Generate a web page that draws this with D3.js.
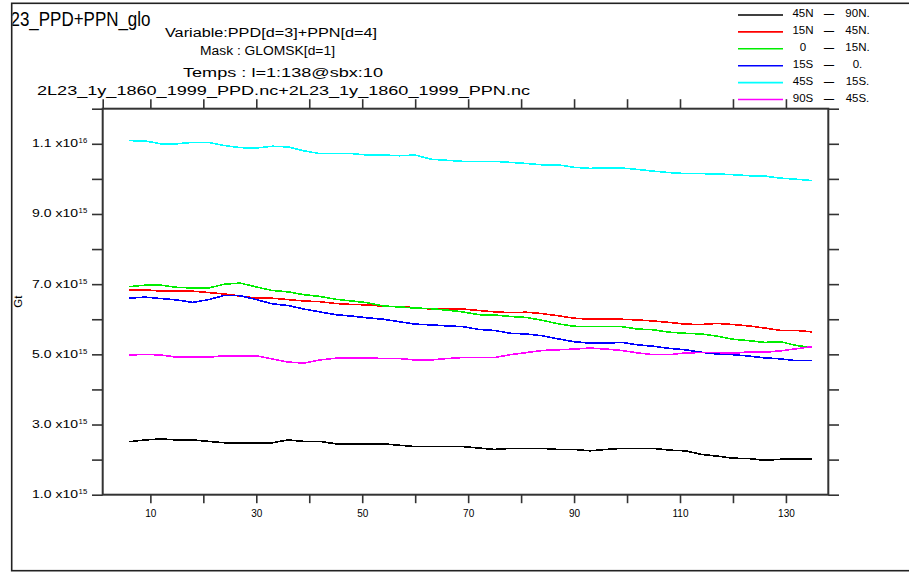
<!DOCTYPE html>
<html><head><meta charset="utf-8">
<script src="https://cdn.jsdelivr.net/npm/d3@7"></script>
<style>
html,body{margin:0;padding:0;background:#fff;}
svg{display:block;}
text{font-family:"Liberation Sans","DejaVu Sans",Arial,sans-serif;fill:#000;}
</style></head><body>
<svg id="chart" width="909" height="572"></svg>
<script>
// ---------------- data (values in units of 1e15 Gt) ----------------
const xValues = [6,9,12,15,18,21,24,27,30,33,36,39,42,45,48,51,54,57,60,63,66,69,
                 72,75,78,81,84,87,90,93,96,99,102,105,108,111,114,117,120,123,126,129,132,135];
const s45N90N = [2.51,2.56,2.59,2.56,2.56,2.52,2.48,2.48,2.48,2.48,2.56,2.52,2.52,2.45,2.45,2.45,2.45,2.41,2.37,2.37,2.37,2.37,
                 2.33,2.29,2.32,2.32,2.32,2.29,2.29,2.25,2.29,2.32,2.32,2.32,2.27,2.25,2.15,2.10,2.04,2.03,1.98,2.01,2.01,2.01];
const s15N45N = [6.84,6.84,6.80,6.80,6.80,6.76,6.72,6.66,6.60,6.60,6.56,6.52,6.50,6.45,6.42,6.41,6.37,6.36,6.33,6.29,6.29,6.29,
                 6.25,6.21,6.19,6.20,6.16,6.10,6.03,6.00,6.00,6.00,5.98,5.95,5.91,5.86,5.85,5.88,5.85,5.81,5.75,5.68,5.68,5.64];
const s0N15N   = [6.93,6.97,6.97,6.91,6.89,6.89,7.00,7.03,6.92,6.82,6.78,6.70,6.65,6.57,6.52,6.47,6.38,6.35,6.32,6.30,6.26,6.21,
                 6.13,6.12,6.08,6.05,5.97,5.87,5.80,5.79,5.79,5.79,5.72,5.70,5.63,5.60,5.58,5.52,5.43,5.39,5.34,5.36,5.25,5.20];
const s15S0    = [6.60,6.63,6.59,6.55,6.48,6.56,6.68,6.67,6.56,6.44,6.39,6.29,6.21,6.13,6.09,6.04,6.00,5.93,5.86,5.84,5.81,5.79,
                 5.71,5.68,5.60,5.58,5.53,5.44,5.36,5.32,5.32,5.34,5.27,5.23,5.17,5.13,5.06,5.01,4.99,4.95,4.90,4.87,4.82,4.82];
const s45S15S  = [11.09,11.08,11.00,11.00,11.04,11.04,10.95,10.89,10.88,10.93,10.91,10.80,10.72,10.72,10.72,10.68,10.68,10.66,10.68,10.56,10.53,10.50,
                 10.50,10.50,10.47,10.44,10.40,10.40,10.33,10.30,10.31,10.31,10.27,10.22,10.18,10.15,10.15,10.14,10.12,10.09,10.08,10.02,9.99,9.95];
const s90S45S  = [4.98,5.00,4.98,4.92,4.92,4.92,4.96,4.96,4.96,4.87,4.78,4.75,4.84,4.89,4.90,4.90,4.88,4.88,4.84,4.84,4.88,4.91,
                 4.91,4.91,4.99,5.05,5.11,5.13,5.15,5.18,5.15,5.11,5.04,4.99,4.99,5.04,5.05,5.05,5.03,5.07,5.06,5.10,5.16,5.22];

const seriesList   = [s45N90N, s15N45N, s0N15N, s15S0, s45S15S, s90S45S];
const legendFrom   = ["45N","15N","0","15S","45S","90S"];
const legendTo     = ["90N.","45N.","15N.","0.","15S.","45S."];
const seriesColors = ["#000000","#ff0000","#00ee00","#0000ff","#00ffff","#ff00ff"];

const xTickValues  = [10,20,30,40,50,60,70,80,90,100,110,120,130];
const xLabelValues = [10,30,50,70,90,110,130];
const yTickValues  = [1,2,3,4,5,6,7,8,9,10,11,12];
const yLabelValues = [1,3,5,7,9,11];
const yLabelMain   = ["1.0 x10","3.0 x10","5.0 x10","7.0 x10","9.0 x10","1.1 x10"];
const yLabelExp    = ["15","15","15","15","15","16"];

const titleText = "23_PPD+PPN_glo";
const subTitles = ["Variable:PPD[d=3]+PPN[d=4]","Mask : GLOMSK[d=1]","Temps : l=1:138@sbx:10",
                   "2L23_1y_1860_1999_PPD.nc+2L23_1y_1860_1999_PPN.nc"];
const yAxisTitle = "Gt";

// ---------------- layout ----------------
const svg = d3.select("#chart");
const L = 102.7, R = 828.3, T = 108.7, B = 494.7;
const x = d3.scaleLinear().domain([1,138]).range([L,R]);
const y = d3.scaleLinear().domain([1,12]).range([B,T]);
const axisColor = "#333";

svg.append("rect").attr("width",909).attr("height",572).attr("fill","#fff");

// outer box
svg.append("rect").attr("x",11.7).attr("y",3.3).attr("width",905).attr("height",567.4)
  .attr("fill","none").attr("stroke","#222").attr("stroke-width",1.6);

svg.append("clipPath").attr("id","boxclip").append("rect")
  .attr("x",12.5).attr("y",4).attr("width",900).attr("height",560);

// title + subtitles
svg.append("text").attr("clip-path","url(#boxclip)")
  .attr("x",10.5).attr("y",26).attr("font-size",19.5)
  .attr("textLength",140).attr("lengthAdjust","spacingAndGlyphs").text(titleText);
const subPos = [[165,36.6,212],[200,55.3,135],[183,76.6,200],[37,94.6,493]];
subTitles.forEach((t,i)=>{
  svg.append("text").attr("x",subPos[i][0]).attr("y",subPos[i][1]).attr("font-size",12)
    .attr("textLength",subPos[i][2]).attr("lengthAdjust","spacingAndGlyphs").text(t);
});

// axes
function styleAxis(g){
  g.select(".domain").remove();
  g.selectAll(".tick line").attr("stroke",axisColor).attr("stroke-width",1.6);
  g.selectAll(".tick text").attr("fill","#000").attr("font-size",10)
    .attr("font-family","'Liberation Sans','DejaVu Sans',sans-serif");
}
const gB = svg.append("g").attr("transform",`translate(0,${B})`)
  .call(d3.axisBottom(x).tickValues(xTickValues).tickSize(8.5).tickPadding(7)
        .tickFormat(d => xLabelValues.includes(d) ? d : ""));
styleAxis(gB);
const gT = svg.append("g").attr("transform",`translate(0,${T})`)
  .call(d3.axisTop(x).tickValues([1].concat(xTickValues)).tickSize(9.5).tickFormat(""));
styleAxis(gT);
const gL = svg.append("g").attr("transform",`translate(${L},0)`)
  .call(d3.axisLeft(y).tickValues(yTickValues).tickSize(10.7).tickFormat(""));
styleAxis(gL);
const gR = svg.append("g").attr("transform",`translate(${R},0)`)
  .call(d3.axisRight(y).tickValues(yTickValues).tickSize(10.7).tickFormat(""));
styleAxis(gR);

// y labels
yLabelValues.forEach((v,i)=>{
  const py = y(v);
  svg.append("text").attr("x",32).attr("y",py+3.4).attr("font-size",10)
    .attr("textLength",46).attr("lengthAdjust","spacingAndGlyphs").text(yLabelMain[i]);
  svg.append("text").attr("x",78.6).attr("y",py-0.6).attr("font-size",7)
    .attr("textLength",8.6).attr("lengthAdjust","spacingAndGlyphs").text(yLabelExp[i]);
});
svg.append("text").attr("transform",`translate(22,${(T+B)/2}) rotate(-90)`)
  .attr("text-anchor","middle").attr("font-size",11.5).text(yAxisTitle);

// frame
svg.append("rect").attr("x",L).attr("y",T).attr("width",R-L).attr("height",B-T)
  .attr("fill","none").attr("stroke",axisColor).attr("stroke-width",2);

// data lines
const line = d3.line().x((d,i)=>x(xValues[i])).y(d=>y(d));
seriesList.forEach((s,i)=>{
  svg.append("path").datum(s).attr("d",line).attr("fill","none")
    .attr("stroke",seriesColors[i]).attr("stroke-width",1.6)
    .attr("shape-rendering","crispEdges");
});

// legend
seriesList.forEach((s,i)=>{
  const ly = 15 + 16.9*i;
  svg.append("line").attr("x1",738).attr("x2",783).attr("y1",ly).attr("y2",ly)
    .attr("stroke",seriesColors[i]).attr("stroke-width",1.6);
  svg.append("text").attr("x",803).attr("y",ly+2.4).attr("text-anchor","middle")
    .attr("font-size",11.5).text(legendFrom[i]);
  svg.append("text").attr("x",822).attr("y",ly+2.4).attr("font-size",11.5)
    .attr("textLength",14).attr("lengthAdjust","spacingAndGlyphs").text("-");
  svg.append("text").attr("x",857.5).attr("y",ly+2.4).attr("text-anchor","middle")
    .attr("font-size",11.5).text(legendTo[i]);
});
</script>
</body></html>
